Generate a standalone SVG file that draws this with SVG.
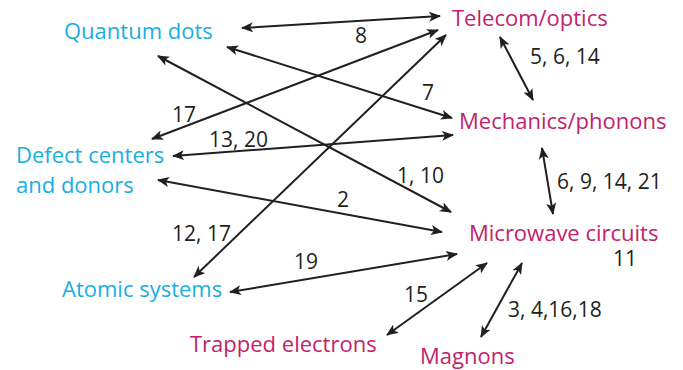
<svg xmlns="http://www.w3.org/2000/svg" width="683" height="370" viewBox="0 0 683 370">
<defs>
<style>
text{font-family:"Open Sans","Noto Sans",sans-serif;font-size:22px}
.q{fill:#17aee0}
.c{fill:#c2226c}
.n{fill:#231f20;font-size:21px}
.e{stroke:#231f20;stroke-width:2;fill:none;marker-start:url(#a);marker-end:url(#a)}
</style>
<marker id="a" viewBox="0 0 12 10" refX="11" refY="5" markerWidth="12" markerHeight="10" markerUnits="userSpaceOnUse" orient="auto-start-reverse">
<path d="M0,0 L12,5 L0,10 L3,5 z" fill="#231f20"/>
</marker>
</defs>
<rect width="683" height="370" fill="#fff"/>
<g id="connectors">
<line class="e" x1="242" y1="28" x2="440" y2="16"/>
<line class="e" x1="152" y1="139" x2="438" y2="30"/>
<line class="e" x1="194" y1="277" x2="446" y2="35"/>
<line class="e" x1="227" y1="47" x2="452" y2="118"/>
<line class="e" x1="158" y1="56" x2="451" y2="212"/>
<line class="e" x1="173" y1="156" x2="453" y2="135"/>
<line class="e" x1="158" y1="180" x2="442" y2="232"/>
<line class="e" x1="230" y1="292" x2="457" y2="254"/>
<line class="e" x1="500" y1="37" x2="533" y2="100"/>
<line class="e" x1="542" y1="148" x2="553" y2="214"/>
<line class="e" x1="487" y1="263" x2="387" y2="335"/>
<line class="e" x1="522" y1="263" x2="481" y2="337"/>
</g>
<g id="labels">
<text class="n" x="355" y="43">8</text>
<text class="n" x="530" y="64">5, 6, 14</text>
<text class="n" x="422" y="100">7</text>
<text class="n" x="172" y="122">17</text>
<text class="n" x="209" y="147">13, 20</text>
<text class="n" x="397" y="183">1, 10</text>
<text class="n" x="557" y="189">6, 9, 14, 21</text>
<text class="n" x="337" y="207">2</text>
<text class="n" x="172" y="241">12, 17</text>
<text class="n" x="613" y="266">11</text>
<text class="n" x="294" y="269">19</text>
<text class="n" x="404" y="302">15</text>
<text class="n" x="508" y="317">3, 4,16,18</text>
</g>
<g id="quantum-dots"><text class="q" x="64" y="39">Quantum dots</text></g>
<g id="defect-centers"><text class="q" x="16" y="163">Defect centers</text><text class="q" x="16" y="193">and donors</text></g>
<g id="atomic-systems"><text class="q" x="62" y="297">Atomic systems</text></g>
<g id="telecom"><text class="c" x="452" y="26">Telecom/optics</text></g>
<g id="mechanics"><text class="c" x="459" y="129">Mechanics/phonons</text></g>
<g id="microwave"><text class="c" x="469" y="241">Microwave circuits</text></g>
<g id="trapped-electrons"><text class="c" x="190" y="352">Trapped electrons</text></g>
<g id="magnons"><text class="c" x="420" y="364">Magnons</text></g>
</svg>
